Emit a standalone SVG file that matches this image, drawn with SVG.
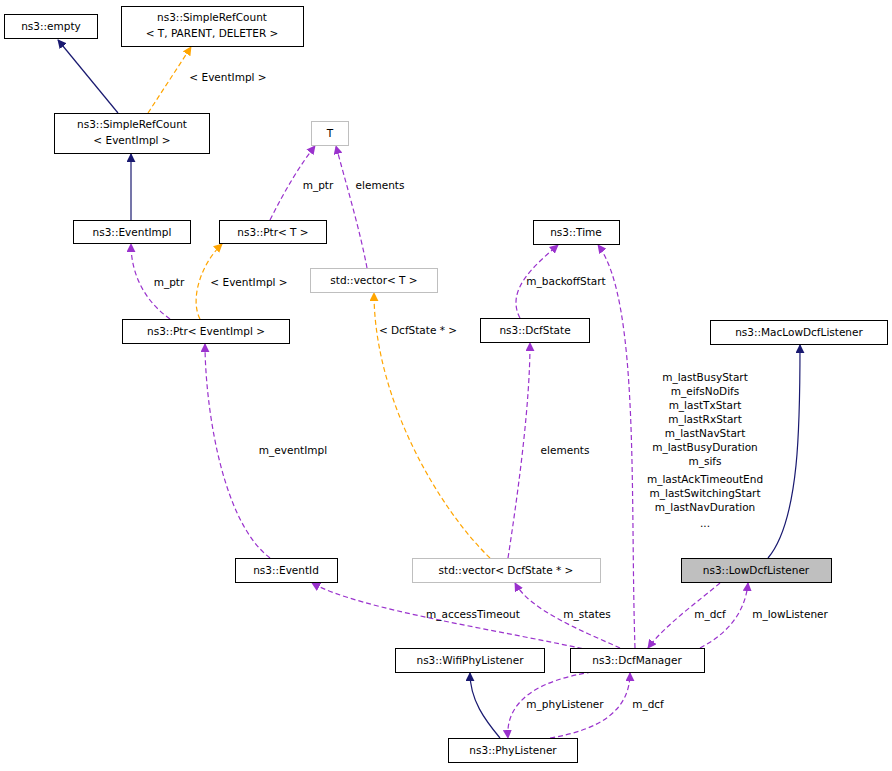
<svg xmlns="http://www.w3.org/2000/svg" width="892" height="771" viewBox="0 0 892 771">
<style>
text{font-family:"DejaVu Sans",sans-serif;font-size:10.5px;fill:#000}
.n rect{fill:#fff;stroke:#000;stroke-width:1}
.g rect{fill:#fff;stroke:#bfbfbf;stroke-width:1}
.c{text-anchor:middle}
.e path{fill:none;stroke-width:1.2}
.nv{stroke:#191970}
.pu{stroke:#9a32cd;stroke-dasharray:5,3}
.or{stroke:#ffa500;stroke-dasharray:5,3}
</style>
<defs>
<marker id="an" viewBox="0 0 10 10" refX="9" refY="5" markerWidth="9" markerHeight="9" orient="auto" markerUnits="userSpaceOnUse"><path d="M0,0L10,5L0,10z" fill="#191970"/></marker>
<marker id="ap" viewBox="0 0 10 10" refX="9" refY="5" markerWidth="9" markerHeight="9" orient="auto" markerUnits="userSpaceOnUse"><path d="M0,0L10,5L0,10z" fill="#9a32cd"/></marker>
<marker id="ao" viewBox="0 0 10 10" refX="9" refY="5" markerWidth="9" markerHeight="9" orient="auto" markerUnits="userSpaceOnUse"><path d="M0,0L10,5L0,10z" fill="#ffa500"/></marker>
</defs>
<g id="connectors" class="e">
<path class="nv" d="M118,113L58,40" marker-end="url(#an)"/>
<path class="or" d="M148,113L191,47" marker-end="url(#ao)"/>
<path class="nv" d="M131,220L131,154" marker-end="url(#an)"/>
<path class="pu" d="M170,319C150,305 131,280 131,244" marker-end="url(#ap)"/>
<path class="or" d="M200,319C190,300 200,265 222,244" marker-end="url(#ao)"/>
<path class="pu" d="M270,220C285,190 300,165 315,146" marker-end="url(#ap)"/>
<path class="pu" d="M367,268C360,230 345,180 336,146" marker-end="url(#ap)"/>
<path class="or" d="M490,558C440,510 374,400 374,293" marker-end="url(#ao)"/>
<path class="pu" d="M508,558C520,480 530,400 530,343" marker-end="url(#ap)"/>
<path class="pu" d="M520,318C505,290 535,265 558,245" marker-end="url(#ap)"/>
<path class="pu" d="M635,648C630,500 640,300 598,245" marker-end="url(#ap)"/>
<path class="pu" d="M270,558C220,520 205,400 205,344" marker-end="url(#ap)"/>
<path class="pu" d="M598,652C500,630 360,610 312,583" marker-end="url(#ap)"/>
<path class="pu" d="M620,648C580,630 530,610 515,583" marker-end="url(#ap)"/>
<path class="nv" d="M768,558C800,520 800,420 800,345" marker-end="url(#an)"/>
<path class="pu" d="M700,648C725,635 745,615 748,583" marker-end="url(#ap)"/>
<path class="pu" d="M720,583C700,600 665,625 648,648" marker-end="url(#ap)"/>
<path class="nv" d="M500,738C485,720 470,700 470,673" marker-end="url(#an)"/>
<path class="pu" d="M592,672C540,680 505,700 508,738" marker-end="url(#ap)"/>
<path class="pu" d="M550,738C600,730 630,710 630,673" marker-end="url(#ap)"/>
</g>
<g id="labels">
<text class="c" x="228" y="81">&lt; EventImpl &gt;</text>
<text class="c" x="169" y="286">m_ptr</text>
<text class="c" x="249" y="286">&lt; EventImpl &gt;</text>
<text class="c" x="318" y="189">m_ptr</text>
<text class="c" x="380" y="189">elements</text>
<text class="c" x="418" y="334">&lt; DcfState * &gt;</text>
<text class="c" x="565" y="454">elements</text>
<text class="c" x="566" y="285">m_backoffStart</text>
<text class="c" x="705" y="381">m_lastBusyStart</text>
<text class="c" x="705" y="395">m_eifsNoDifs</text>
<text class="c" x="705" y="409">m_lastTxStart</text>
<text class="c" x="705" y="423">m_lastRxStart</text>
<text class="c" x="705" y="437">m_lastNavStart</text>
<text class="c" x="705" y="451">m_lastBusyDuration</text>
<text class="c" x="705" y="465">m_sifs</text>
<text class="c" x="705" y="483">m_lastAckTimeoutEnd</text>
<text class="c" x="705" y="497">m_lastSwitchingStart</text>
<text class="c" x="705" y="511">m_lastNavDuration</text>
<text class="c" x="705" y="527">...</text>
<text class="c" x="293" y="454">m_eventImpl</text>
<text class="c" x="473" y="618">m_accessTimeout</text>
<text class="c" x="587" y="618">m_states</text>
<text class="c" x="710" y="618">m_dcf</text>
<text class="c" x="790" y="618">m_lowListener</text>
<text class="c" x="565" y="708">m_phyListener</text>
<text class="c" x="648" y="708">m_dcf</text>
</g>
<g id="empty" class="n"><rect x="4.5" y="14.5" width="93" height="24"/><text class="c" x="51" y="30">ns3::empty</text></g>
<g id="srcT" class="n"><rect x="121.5" y="6.5" width="182" height="40"/><text class="c" x="212" y="21">ns3::SimpleRefCount</text><text class="c" x="212" y="37">&lt; T, PARENT, DELETER &gt;</text></g>
<g id="T" class="g"><rect x="311.5" y="121.5" width="37" height="24"/><text class="c" x="330" y="137">T</text></g>
<g id="srcE" class="n"><rect x="54.5" y="113.5" width="155" height="40"/><text class="c" x="132" y="128">ns3::SimpleRefCount</text><text class="c" x="132" y="144">&lt; EventImpl &gt;</text></g>
<g id="EventImpl" class="n"><rect x="73.5" y="220.5" width="117" height="23"/><text class="c" x="132" y="236">ns3::EventImpl</text></g>
<g id="PtrT" class="n"><rect x="219.5" y="220.5" width="107" height="23"/><text class="c" x="273" y="236">ns3::Ptr&lt; T &gt;</text></g>
<g id="vecT" class="g"><rect x="310.5" y="268.5" width="127" height="24"/><text class="c" x="374" y="284">std::vector&lt; T &gt;</text></g>
<g id="Time" class="n"><rect x="533.5" y="220.5" width="86" height="24"/><text class="c" x="576" y="236">ns3::Time</text></g>
<g id="DcfState" class="n"><rect x="480.5" y="318.5" width="109" height="24"/><text class="c" x="535" y="334">ns3::DcfState</text></g>
<g id="PtrE" class="n"><rect x="122.5" y="319.5" width="167" height="24"/><text class="c" x="206" y="335">ns3::Ptr&lt; EventImpl &gt;</text></g>
<g id="MacLow" class="n"><rect x="710.5" y="320.5" width="177" height="24"/><text class="c" x="799" y="336">ns3::MacLowDcfListener</text></g>
<g id="EventId" class="n"><rect x="235.5" y="558.5" width="102" height="24"/><text class="c" x="286" y="574">ns3::EventId</text></g>
<g id="vecD" class="g"><rect x="412.5" y="558.5" width="188" height="24"/><text class="c" x="506" y="574">std::vector&lt; DcfState * &gt;</text></g>
<g id="LowDcf" class="n"><rect x="681.5" y="558.5" width="150" height="24" style="fill:#bfbfbf"/><text class="c" x="756" y="574">ns3::LowDcfListener</text></g>
<g id="WifiPhy" class="n"><rect x="395.5" y="648.5" width="149" height="24"/><text class="c" x="470" y="664">ns3::WifiPhyListener</text></g>
<g id="DcfManager" class="n"><rect x="570.5" y="648.5" width="134" height="24"/><text class="c" x="637" y="664">ns3::DcfManager</text></g>
<g id="PhyListener" class="n"><rect x="448.5" y="738.5" width="129" height="24"/><text class="c" x="513" y="754">ns3::PhyListener</text></g>
</svg>
